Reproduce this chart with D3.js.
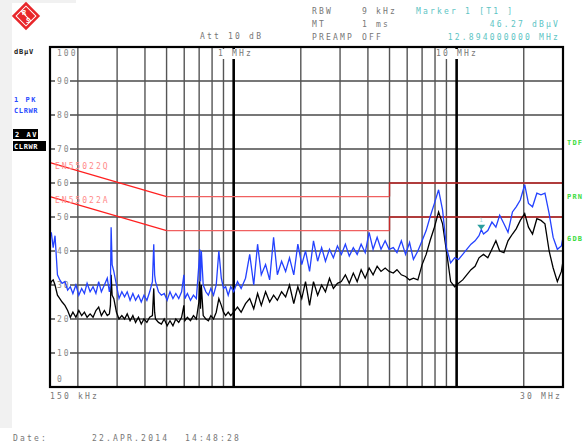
<!DOCTYPE html>
<html>
<head>
<meta charset="utf-8">
<script src="https://cdn.jsdelivr.net/npm/d3@7"></script>
<style>
  html, body { margin: 0; padding: 0; background: #fff; }
  svg text { font-family: "DejaVu Sans Mono", monospace; }
</style>
</head>
<body>
<div id="chart"></div>
<script>
// frequency points (MHz), shared by both traces
const freqMHz = [
  0.150,0.152,0.155,0.158,0.162,0.166,0.170,0.175,0.180,0.185,
  0.190,0.196,0.202,0.208,0.214,0.220,0.227,0.234,0.241,0.248,
  0.255,0.263,0.271,0.277,0.280,0.282,0.285,0.290,0.298,0.306,
  0.315,0.324,0.333,0.343,0.353,0.363,0.374,0.385,0.396,0.408,
  0.420,0.432,0.438,0.442,0.446,0.460,0.474,0.488,0.503,0.518,
  0.534,0.550,0.567,0.584,0.598,0.604,0.620,0.640,0.660,0.680,
  0.698,0.704,0.710,0.716,0.730,0.750,0.770,0.790,0.812,0.835,
  0.858,0.880,0.900,0.920,0.945,0.970,
  1.00,1.04,1.08,1.13,1.18,1.23,1.28,1.33,1.39,1.45,
  1.51,1.57,1.64,1.71,1.78,1.86,1.94,2.02,2.10,2.19,
  2.28,2.38,2.48,2.58,2.69,2.80,2.92,3.04,3.17,3.30,
  3.44,3.58,3.73,3.89,4.05,4.22,4.40,4.58,4.78,4.98,
  5.2,5.4,5.65,5.9,6.15,6.4,6.7,7.0,7.3,7.6,
  7.95,8.3,8.65,9.0,9.4,9.8,10.2,10.65,11.1,11.6,
  12.1,12.6,12.9,13.2,13.8,14.4,15.0,15.6,16.3,17.0,
  17.8,18.5,19.3,20.2,21.0,21.9,22.9,23.9,24.9,26.0,
  27.1,28.3,29.5,30.0
];

// trace 1 : PK (blue), dBuV
const peakDbuV = [
  44,45.5,41,44.5,33,31.5,30.5,31,28.5,29.5,
  27.5,30,27,29,27.5,30.5,28,29.5,27.5,31,
  28,30,32,28,30,47,36,34,30,26,
  28,26.5,28,25.5,27.5,25.5,27,25,27,25.5,
  28,31,42,33,31,28,27,27.5,25.5,28,
  26,27.5,26,28,33,26,27.5,25.5,27,26,
  36,40.5,31,40,30,28,27,29,27,30,
  40,32,29,29.5,27,29.5,
  28,31,29,32,39,30,42,33,36,31.5,
  44,33,37,34,38,33,42,36,40,34,
  43,37,41,37,40.5,38,41.5,39,42,38.5,
  41,39,42,39.5,45.5,40.5,44,40.5,43,40.5,
  41,39.5,43,39,42.5,37.5,40,43,46,50,
  54,58,52,41,36.5,38,37.5,39,40.5,42,
  43,44.5,46.3,45,46,48.5,47,50.5,48,45.5,
  51.5,53,55,59.5,54,53,57,56.5,57,51,
  44,40.5,41.5,44
];

// trace 2 : AV (black), dBuV
const avgDbuV = [
  29.5,31,31.5,30,27,26,25,24,22.5,20.5,
  22,20.5,22.5,21,22,20.5,21.5,20.5,22.5,23.5,
  21,22.5,21,21.5,24,33,27,26,22,20,
  21,20,21.5,19.5,21,19,20.5,18.5,20,19,
  20.5,21,29,22,20,19,18.5,20,18,19.5,
  18,20,19,20.5,24,19.5,20.5,19.5,21,20,
  25,31,23,30,21,20,19.5,21,20,22,
  26,24,22,21,22,21,
  22,23.5,22,24.5,26,23,27.5,24,28,25,
  27,25.5,28,26.5,30,24.5,29.5,26,31,24,
  31,27,30,28,32,29,30.5,31,33,30.5,
  33.5,31,34.5,32,35,33,35.5,34,35,34,
  33.5,34.5,33,32.5,31.5,32,31.5,36,39,43,
  47,51.5,48,40,31,29.5,30.5,31.5,33,34.5,
  35.5,38,38.5,39,38,40.5,43,40,39.5,43,
  45,46.5,49,51,47,45,49.5,49,48,40,
  35,31,34,37
];

// EN55022 limit lines
const limitFreq = [0.15, 0.5, 5, 5, 30];
const limitQ = [66, 56, 56, 60, 60];
const limitA = [56, 46, 46, 50, 50];

const yTicks = [0,10,20,30,40,50,60,70,80,90,100];
const xGrid = [0.2,0.3,0.4,0.5,0.6,0.7,0.8,0.9,1,2,3,4,5,6,7,8,9,10,20];
const xMajor = [1, 10];

const marker = {freq: 12.894, level: 46.27};

const W = 584, H = 444;
const svg = d3.select("#chart").append("svg").attr("width", W).attr("height", H);

const x = d3.scaleLog().domain([0.15, 30]).range([50, 563]);
const y = d3.scaleLinear().domain([0, 100]).range([387, 47]);

// background strips
svg.append("rect").attr("x", 0).attr("y", 0).attr("width", 12).attr("height", 428).attr("fill", "#f1f1f1");
svg.append("rect").attr("x", 0).attr("y", 0).attr("width", 76).attr("height", 3).attr("fill", "#f1f1f1");

function txt(px, py, s, color, opts) {
  opts = opts || {};
  return svg.append("text")
    .attr("x", px).attr("y", py)
    .attr("font-size", opts.size || 8)
    .attr("letter-spacing", opts.ls != null ? opts.ls : 2.2)
    .attr("font-weight", opts.bold ? "bold" : "normal")
    .attr("text-anchor", opts.anchor || "start")
    .attr("fill", color)
    .text(s);
}

// logo
const logo = svg.append("g").attr("transform", "translate(26,16) rotate(45)");
logo.append("rect").attr("x", -10).attr("y", -10).attr("width", 20).attr("height", 20).attr("fill", "#e8262a");
logo.append("rect").attr("x", -7).attr("y", -7).attr("width", 14).attr("height", 14).attr("fill", "none").attr("stroke", "#fff").attr("stroke-width", 1);
logo.append("line").attr("x1", -7).attr("y1", 0).attr("x2", 7).attr("y2", 0).attr("stroke", "#fff").attr("stroke-width", 1);
svg.append("text").attr("x", 22).attr("y", 15).attr("font-size", 7).attr("font-weight", "bold").attr("fill", "#fff").text("R");
svg.append("text").attr("x", 26).attr("y", 23).attr("font-size", 7).attr("font-weight", "bold").attr("fill", "#fff").text("S");

// header
const grey = "#777";
const cyan = "#5cc4c4";
txt(312, 14, "RBW", grey);
txt(362, 14, "9 kHz", grey);
txt(312, 27, "MT", grey);
txt(362, 27, "1 ms", grey);
txt(312, 40, "PREAMP", grey);
txt(362, 40, "OFF", grey);
txt(200, 39, "Att 10 dB", grey);
txt(416, 14, "Marker 1 [T1 ]", cyan);
txt(560, 27, "46.27 dB\u00b5V", cyan, {anchor: "end"});
txt(560, 40, "12.894000000 MHz", cyan, {anchor: "end"});

// left side labels
txt(14, 54, "dB\u00b5V", "#222", {bold: true, ls: 0.8, size: 7});
txt(14, 102, "1 PK", "#2a4cff", {bold: true, ls: 1.5, size: 7});
txt(14, 113, "CLRWR", "#2a4cff", {bold: true, ls: 0.6, size: 7});
svg.append("rect").attr("x", 13).attr("y", 129).attr("width", 25).attr("height", 10).attr("fill", "#000");
txt(15, 137, "2 AV", "#fff", {bold: true, ls: 1.5, size: 7});
svg.append("rect").attr("x", 13).attr("y", 141).attr("width", 33).attr("height", 10).attr("fill", "#000");
txt(14, 149, "CLRWR", "#fff", {bold: true, ls: 0.6, size: 7});

// right side labels
const green = "#3ddc3d";
txt(567, 145, "TDF", green, {bold: true, ls: 1.2, size: 7});
txt(567, 199, "PRN", green, {bold: true, ls: 1.2, size: 7});
txt(567, 241, "6DB", green, {bold: true, ls: 1.2, size: 7});

// grid
const grid = svg.append("g");
grid.selectAll("line.h").data(yTicks.filter(d => d > 0 && d < 100)).enter()
  .append("line")
  .attr("x1", x(0.15)).attr("x2", x(30))
  .attr("y1", d => y(d)).attr("y2", d => y(d))
  .attr("stroke", "#4a4a4a").attr("stroke-width", 1.4);
grid.selectAll("line.v").data(xGrid).enter()
  .append("line")
  .attr("x1", d => x(d)).attr("x2", d => x(d))
  .attr("y1", y(100)).attr("y2", y(0))
  .attr("stroke", d => xMajor.includes(d) ? "#000" : "#555")
  .attr("stroke-width", d => xMajor.includes(d) ? 2.6 : 1.4);

// y labels with white backing
yTicks.forEach(v => {
  const ty = v === 100 ? y(100) + 9 : (v === 0 ? y(0) - 5 : y(v) + 3);
  if (v > 0 && v < 100) {
    svg.append("rect").attr("x", 55).attr("y", y(v) - 4).attr("width", v >= 10 ? 15 : 8).attr("height", 8).attr("fill", "#fff");
  }
  txt(57, ty, String(v), "#888", {ls: 2});
});

// frequency labels inside the plot
svg.append("rect").attr("x", 216).attr("y", 49).attr("width", 40).attr("height", 10).attr("fill", "#fff");
txt(218, 56, "1 MHz", "#777");
svg.append("rect").attr("x", 438).attr("y", 49).attr("width", 44).attr("height", 10).attr("fill", "#fff");
txt(436, 56, "10 MHz", "#777");

// limit lines
const limLine = d3.line().x(d => x(d[0])).y(d => y(d[1]));
function drawLimit(vals) {
  const pts = limitFreq.map((f, i) => [f, vals[i]]);
  svg.append("path").attr("d", limLine(pts.slice(0, 2))).attr("fill", "none").attr("stroke", "#ff2020").attr("stroke-width", 1.2);
  svg.append("path").attr("d", limLine(pts.slice(1, 3))).attr("fill", "none").attr("stroke", "#f06060").attr("stroke-width", 1.4);
  svg.append("path").attr("d", limLine(pts.slice(2))).attr("fill", "none").attr("stroke", "#c42a2a").attr("stroke-width", 1.4);
}
drawLimit(limitQ);
drawLimit(limitA);
txt(55, 169, "EN55022Q", "#ff8a8a", {ls: 2});
txt(55, 203, "EN55022A", "#ff8a8a", {ls: 2});

// traces
const traceLine = d3.line().x((d, i) => x(freqMHz[i])).y(d => y(d));
svg.append("path").attr("d", traceLine(avgDbuV)).attr("fill", "none").attr("stroke", "#000").attr("stroke-width", 1.3);
svg.append("path").attr("d", traceLine(peakDbuV)).attr("fill", "none").attr("stroke", "#2442ff").attr("stroke-width", 1.3);

// marker
const mx = x(marker.freq), my = y(marker.level);
svg.append("path").attr("d", `M${mx - 4},${my - 5}L${mx + 4},${my - 5}L${mx},${my}Z`).attr("fill", "#2a9e9e");
txt(mx - 2, my - 8, "1", "#9fd6d6", {size: 6, ls: 0});

// frame
svg.append("rect").attr("x", x(0.15)).attr("y", y(100)).attr("width", x(30) - x(0.15)).attr("height", y(0) - y(100))
  .attr("fill", "none").attr("stroke", "#000").attr("stroke-width", 2.2);

// bottom labels
txt(50, 399, "150 kHz", "#777");
txt(562, 399, "30 MHz", "#777", {anchor: "end"});
txt(13, 441, "Date:", "#777");
txt(92, 441, "22.APR.2014", "#777");
txt(185, 441, "14:48:28", "#777");

console.log(freqMHz.length, peakDbuV.length, avgDbuV.length);
</script>
</body>
</html>
